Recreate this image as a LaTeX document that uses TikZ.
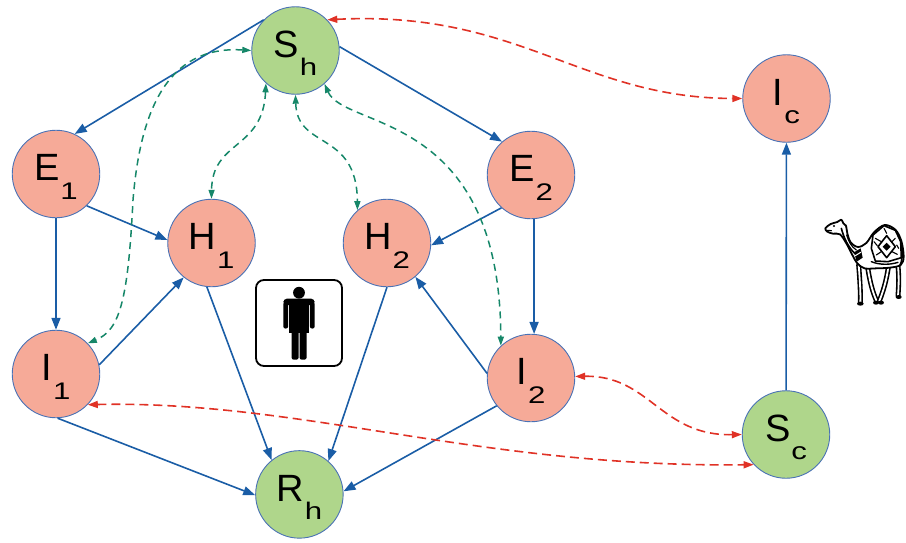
\documentclass[tikz,border=0pt]{standalone}
\usepackage{fontspec}
\setmainfont{Liberation Sans}
\usetikzlibrary{arrows.meta}

\definecolor{salmon}{HTML}{F6AA98}
\definecolor{leaf}{HTML}{AFD68B}
\definecolor{rim}{HTML}{4A72B5}
\definecolor{flow}{HTML}{1A5DA6}
\definecolor{vector}{HTML}{E03226}
\definecolor{contact}{HTML}{168769}

% compartment label: letter with a lowered, widened subscript
\newcommand\cmpt[2]{#1\hspace{1pt}\raisebox{-18.5pt}{\scalebox{1.3}[1]{\fontsize{24}{24}\selectfont #2}}}

\begin{document}
\begin{tikzpicture}[x=1pt,y=-1pt,
  compartment/.style={circle, draw=rim, line width=0.9pt, minimum size=87.5pt,
    inner sep=0pt, font=\fontsize{38}{38}\selectfont, text height=32pt, text depth=18.5pt},
  inf/.style={compartment, fill=salmon},
  sus/.style={compartment, fill=leaf},
  flowarrow/.style={draw=flow, line width=1.6pt, -{Triangle[length=12pt,width=9pt]}},
  vecarrow/.style={draw=vector, line width=1.6pt, dash pattern=on 9pt off 5pt,
    {Triangle[length=10pt,width=7pt]}-{Triangle[length=10pt,width=7pt]}},
  contactarrow/.style={draw=contact, line width=1.5pt, dash pattern=on 7pt off 5pt,
    {Triangle[length=9pt,width=6pt]}-{Triangle[length=9pt,width=6pt]}},
  iconframe/.style={draw, line width=1.8pt, rounded corners=8pt, minimum width=86pt,
    minimum height=86pt, inner sep=0pt}
]
\useasboundingbox (0,0) rectangle (906,542);

% compartments
\node[sus] (Sh) at (295.5,50.5) {\cmpt{S}{h}};
\node[inf] (Ic) at (786.5,98.5) {\cmpt{I}{c}};
\node[inf] (E1) at (56,174) {\cmpt{E}{1}};
\node[inf] (E2) at (531,175) {\cmpt{E}{2}};
\node[inf] (H1) at (211.5,243) {\cmpt{H}{1}};
\node[inf] (H2) at (387,243) {\cmpt{H}{2}};
\node[inf] (I1) at (56,374) {\cmpt{I}{1}};
\node[inf] (I2) at (531,378) {\cmpt{I}{2}};
\node[sus] (Sc) at (786,434.5) {\cmpt{S}{c}};
\node[sus] (Rh) at (299.4,494.4) {\cmpt{R}{h}};

% transitions between compartments
\draw[flowarrow] (Sh.136) -- (E1.65);
\draw[flowarrow] (Sh.5) -- (E2.131);
\draw[flowarrow] (E1) -- (I1);
\draw[flowarrow] (E1.-46) -- (H1.176);
\draw[flowarrow] (I1.12) -- (H1.231);
\draw[flowarrow] (H1.-96) -- (Rh.129);
\draw[flowarrow] (I1.-88) -- (Rh.181);
\draw[flowarrow] (H2.-90) -- (Rh.49);
\draw[flowarrow] (I2.219) -- (Rh.4);
\draw[flowarrow] (I2.174) -- (H2.-50);
\draw[flowarrow] (E2.228) -- (H2.-3);
\draw[flowarrow] (E2.-86) -- (I2.86);
\draw[flowarrow] (Sc) -- (Ic);

% camel-human transmission
\draw[vecarrow] (Sh.44) .. controls (520,10) and (580,98) .. (Ic.west);
\draw[vecarrow] (I2.2) .. controls (650,375) and (660,436) .. (Sc.west);
\draw[vecarrow] (I1.-44) .. controls (300,400) and (480,468) .. (Sc.223);

% human-human contacts
\draw[contactarrow] (Sh.west) .. controls (165,45) and (140,115) .. (133,200)
  .. controls (128,300) and (120,330) .. (I1.44);
\draw[contactarrow] (Sh.-132) .. controls (263,150) and (212,140) .. (H1.north);
\draw[contactarrow] (Sh.south) .. controls (297,150) and (357,130) .. (H2.132);
\draw[contactarrow] (Sh.-49) .. controls (345,130) and (500,110) .. (I2.133);

% human pictogram
\node[iconframe] (person) at (299,323) {};
\begin{scope}[black]
  \fill (299,292.7) circle (5.9);
  \fill[rounded corners=4pt] (283.3,305) -- (283.3,298.5) -- (314.7,298.5) -- (314.7,305) -- cycle;
  \fill[rounded corners=2pt] (283.3,302) rectangle (288.1,328.5);
  \fill[rounded corners=2pt] (309.9,302) rectangle (314.7,328.5);
  \fill (289.4,300) rectangle (308.6,333);
  \fill[rounded corners=2pt] (291.6,330) rectangle (298.6,359.6);
  \fill[rounded corners=2pt] (299.6,330) rectangle (306.6,359.6);
\end{scope}

% camel
\begin{scope}[shift={(818,215)}, scale=1/3, line join=round, line cap=round]
  % legs as outlined strokes
  \foreach \leg in {
      {(148,150) .. controls (155,200) and (165,235) .. (176,258)},
      {(238,135) .. controls (244,180) and (242,215) .. (240,242)},
      {(212,150) .. controls (205,200) and (195,230) .. (184,258)},
      {(122,150) .. controls (126,200) and (128,235) .. (127,262)}} {
    \draw[line width=5pt] \leg;
    \draw[line width=1.8pt, white] \leg;
  }
  \fill (127,266) ellipse (10 and 6);
  \fill (174,263) ellipse (9 and 6);
  \fill (189,263) ellipse (9 and 6);
  \fill (242,246) ellipse (9 and 6);
  % body, neck and head
  \draw[fill=white, line width=1.8pt] plot[smooth cycle, tension=0.55] coordinates {
    (22,40) (38,27) (58,21) (70,14) (76,25) (84,32) (88,55) (98,82) (120,96)
    (145,84) (168,52) (200,30) (232,44) (250,78) (257,125) (248,150) (215,158)
    (175,160) (140,160) (118,145) (102,118) (85,85) (66,58) (45,56) (28,50)};
  \fill (48,33) circle (3.5);
  \draw[line width=1.2pt] (26,46) -- (40,47);
  \draw[line width=1.6pt] (70,40) .. controls (78,70) and (90,95) .. (110,115);
  \draw[line width=1.2pt] (86,60) .. controls (92,80) and (100,95) .. (115,105);
  % collar at the base of the neck
  \fill (108,112) -- (128,100) -- (134,128) -- (116,140) -- cycle;
  \draw[line width=1pt, white] (112,122) -- (128,112);
  % saddle blanket
  \draw[fill=white, line width=1.6pt] (165,60) -- (198,32) -- (232,46) -- (248,80)
    -- (250,128) -- (210,140) -- (172,138) -- (160,100) -- cycle;
  \draw[line width=1.6pt] (206,62) -- (232,95) -- (206,128) -- (180,95) -- cycle;
  \fill (206,83) -- (218,95) -- (206,107) -- (194,95) -- cycle;
  \draw[line width=1.1pt] (172,70) -- (190,80) (232,70) -- (222,80)
    (175,120) -- (190,110) (238,118) -- (222,110) (198,40) -- (206,55)
    (168,80) -- (178,92) (242,100) -- (236,90);
  \draw[line width=1.6pt] (250,90) .. controls (255,120) and (252,140) .. (246,150);
  \draw[line width=1.4pt] (160,140) .. controls (185,150) and (215,150) .. (240,142);
\end{scope}
\end{tikzpicture}
\end{document}
